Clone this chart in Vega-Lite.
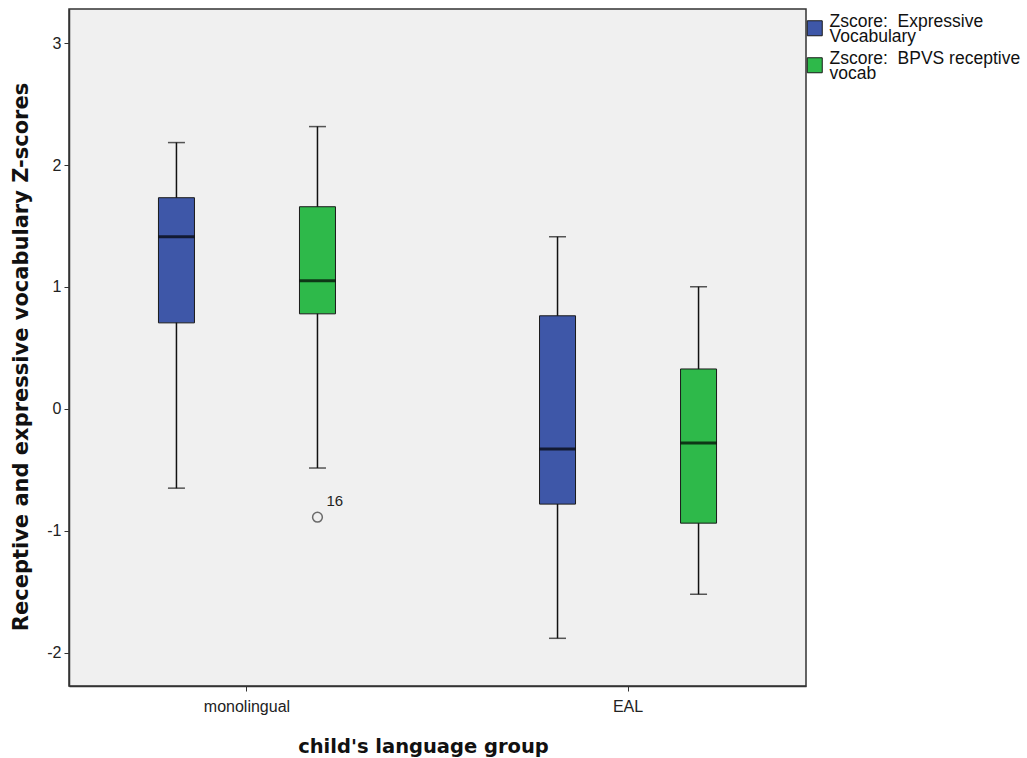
{
  "$schema": "https://vega.github.io/schema/vega-lite/v6.json",
  "width": 737,
  "height": 677,
  "autosize": {"type": "none"},
  "padding": {"left": 69, "top": 9, "right": 221, "bottom": 72},
  "background": "white",
  "config": {
    "view": {"fill": "#f0f0f0", "stroke": "#333333", "strokeWidth": 1.5},
    "font": "Liberation Sans"
  },
  "datasets": {
    "boxes": [
      {"group": "monolingual", "measure": "Zscore:  Expressive Vocabulary", "lower": -0.649, "q1": 0.706, "median": 1.412, "q3": 1.732, "upper": 2.184},
      {"group": "monolingual", "measure": "Zscore:  BPVS receptive vocab", "lower": -0.484, "q1": 0.78, "median": 1.051, "q3": 1.658, "upper": 2.315},
      {"group": "EAL", "measure": "Zscore:  Expressive Vocabulary", "lower": -1.88, "q1": -0.78, "median": -0.328, "q3": 0.764, "upper": 1.412},
      {"group": "EAL", "measure": "Zscore:  BPVS receptive vocab", "lower": -1.519, "q1": -0.936, "median": -0.279, "q3": 0.328, "upper": 1.002}
    ],
    "outliers": [
      {"group": "monolingual", "measure": "Zscore:  BPVS receptive vocab", "value": -0.887, "case": "16"}
    ]
  },
  "encoding": {
    "x": {
      "field": "group",
      "type": "nominal",
      "sort": ["monolingual", "EAL"],
      "scale": {"paddingInner": 0.066, "paddingOuter": 0},
      "axis": {
        "title": "child's language group",
        "labelAngle": 0,
        "labelFont": "Liberation Sans",
        "labelFontSize": 16,
        "labelColor": "#222222",
        "labelPadding": 7,
        "tickSize": 5,
        "tickColor": "#333333",
        "domainColor": "#333333",
        "domainWidth": 1.5,
        "titleFont": "DejaVu Sans",
        "titleFontWeight": "bold",
        "titleFontSize": 19.5,
        "titleColor": "#111111",
        "titleBaseline": "alphabetic",
        "titleX": 354,
        "titleY": 66
      }
    },
    "xOffset": {
      "field": "measure",
      "type": "nominal",
      "sort": ["Zscore:  Expressive Vocabulary", "Zscore:  BPVS receptive vocab"],
      "scale": {"paddingInner": 0, "paddingOuter": 0.262}
    }
  },
  "layer": [
    {
      "data": {"name": "boxes"},
      "mark": {"type": "rule", "color": "#111111", "strokeWidth": 1.5},
      "encoding": {
        "y": {
          "field": "lower",
          "type": "quantitative",
          "scale": {"domain": [-2.271, 3.279], "nice": false, "zero": false},
          "axis": {
            "title": "Receptive and expressive vocabulary Z-scores",
            "values": [-2, -1, 0, 1, 2, 3],
            "labelExpr": "datum.value + ''",
            "grid": false,
            "labelFont": "Liberation Sans",
            "labelFontSize": 16,
            "labelColor": "#222222",
            "labelPadding": 3,
            "tickSize": 5,
            "tickColor": "#333333",
            "domainColor": "#333333",
            "domainWidth": 1.5,
            "titleFont": "DejaVu Sans",
            "titleFontWeight": "bold",
            "titleFontSize": 21,
            "titleColor": "#111111",
            "titleBaseline": "alphabetic",
            "titleX": -42,
            "titleY": 347.5
          }
        },
        "y2": {"field": "upper"}
      }
    },
    {
      "data": {"name": "boxes"},
      "mark": {"type": "bar", "size": 36, "stroke": "#1a1a1a", "strokeWidth": 1},
      "encoding": {
        "y": {"field": "q1", "type": "quantitative"},
        "y2": {"field": "q3"},
        "color": {
          "field": "measure",
          "type": "nominal",
          "sort": ["Zscore:  Expressive Vocabulary", "Zscore:  BPVS receptive vocab"],
          "scale": {"domain": ["Zscore:  Expressive Vocabulary", "Zscore:  BPVS receptive vocab"], "range": ["#3e57a8", "#2eb94a"]},
          "legend": {
            "title": null,
            "orient": "none",
            "legendX": 737,
            "legendY": 10.5,
            "padding": 0,
            "symbolType": "square",
            "symbolSize": 225,
            "symbolStrokeColor": "#1a1a1a",
            "symbolStrokeWidth": 1,
            "labelFont": "Liberation Sans",
            "labelFontSize": 17.5,
            "labelColor": "#111111",
            "labelOffset": 6,
            "labelLimit": 300,
            "rowPadding": 3,
            "labelExpr": "datum.label == 'Zscore:  Expressive Vocabulary' ? ['Zscore:\u00a0 Expressive', 'Vocabulary'] : ['Zscore:\u00a0 BPVS receptive', 'vocab']",
            "encode": {"labels": {"update": {"lineHeight": {"value": 15}, "dy": {"value": -6}}}}
          }
        }
      }
    },
    {
      "data": {"name": "boxes"},
      "mark": {"type": "tick", "color": "#000000", "size": 36, "thickness": 3},
      "encoding": {"y": {"field": "median", "type": "quantitative"}}
    },
    {
      "data": {"name": "boxes"},
      "mark": {"type": "tick", "color": "#111111", "size": 17, "thickness": 1.5},
      "encoding": {"y": {"field": "upper", "type": "quantitative"}}
    },
    {
      "data": {"name": "boxes"},
      "mark": {"type": "tick", "color": "#111111", "size": 17, "thickness": 1.5},
      "encoding": {"y": {"field": "lower", "type": "quantitative"}}
    },
    {
      "data": {"name": "outliers"},
      "mark": {"type": "point", "shape": "circle", "filled": false, "size": 95, "stroke": "#333333", "strokeWidth": 1.5},
      "encoding": {"y": {"field": "value", "type": "quantitative"}}
    },
    {
      "data": {"name": "outliers"},
      "mark": {"type": "text", "align": "left", "baseline": "middle", "dx": 9, "dy": -16.5, "fontSize": 15, "font": "Liberation Sans", "color": "#222222"},
      "encoding": {
        "y": {"field": "value", "type": "quantitative"},
        "text": {"field": "case"}
      }
    }
  ]
}
